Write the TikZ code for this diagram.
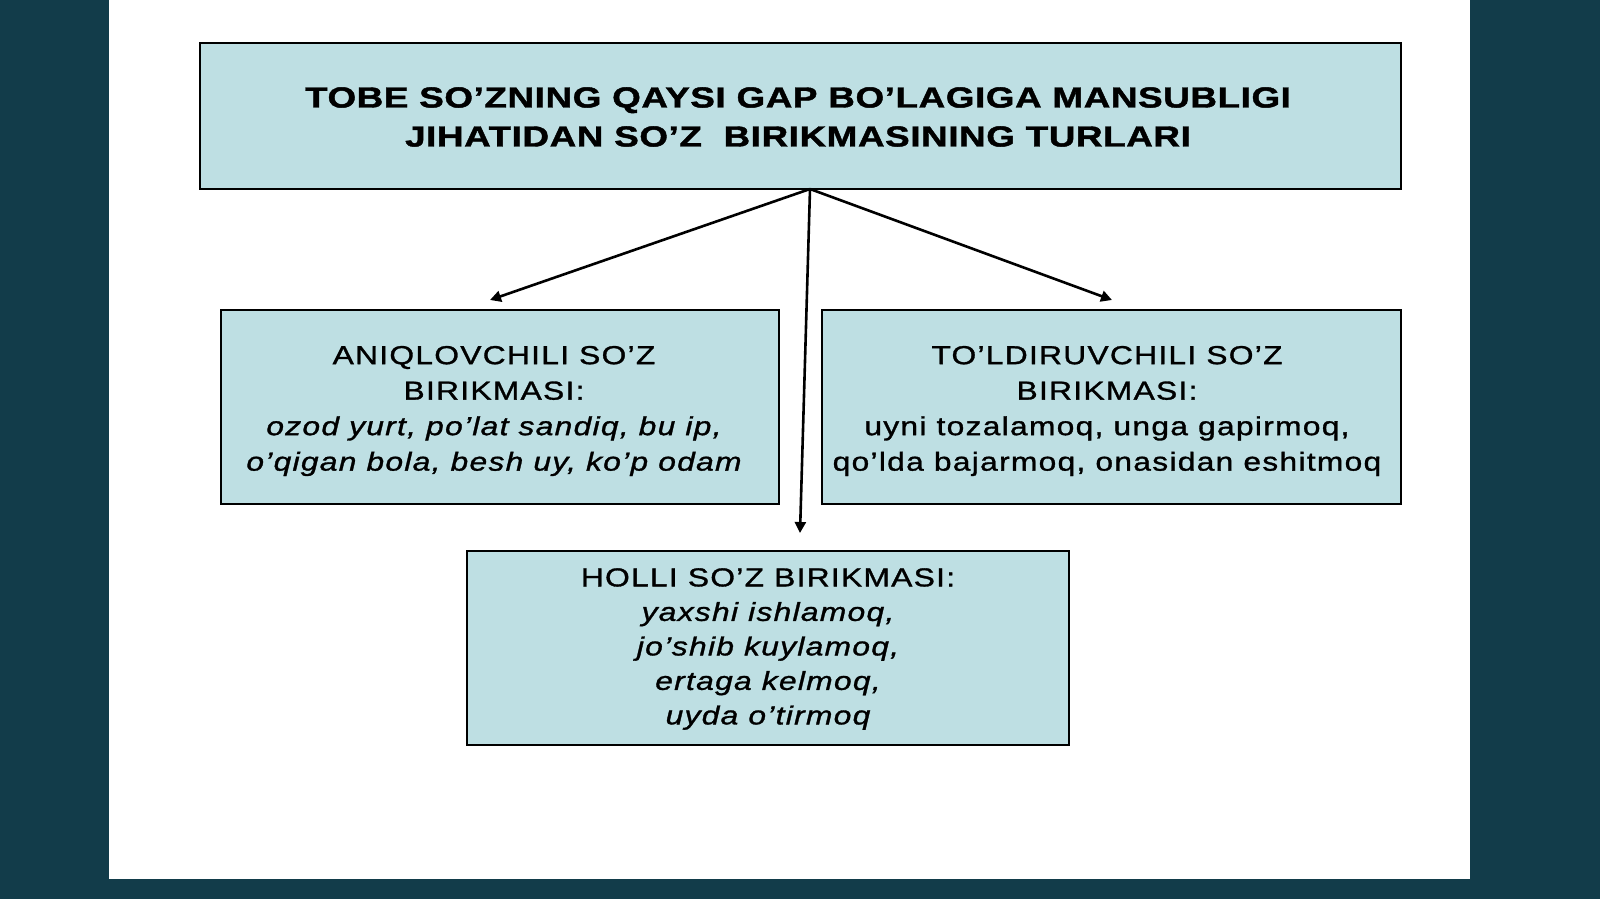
\documentclass[tikz,border=0pt]{standalone}
\usepackage{fontspec}
\setmainfont{Liberation Sans}[FakeStretch=1.22,LetterSpace=5,FakeBold=1.2]
\newfontfamily\titlefont{Liberation Sans}[FakeStretch=1.27,LetterSpace=2,FakeBold=1.5]
\usetikzlibrary{arrows.meta}
\definecolor{bgteal}{RGB}{18,60,74}
\definecolor{boxfill}{RGB}{190,223,227}
\tikzset{
  box/.style={draw=black, line width=1.3pt, fill=boxfill, inner sep=0pt},
  boxtext/.style={inner sep=0pt, align=center, text=black},
  conn/.style={line width=2.6pt, -{Triangle[length=11pt,width=11pt]}, shorten >=0pt}
}
\begin{document}
\begin{tikzpicture}[x=1pt,y=-1pt]
\useasboundingbox (0,0) rectangle (1600,899);
\fill[bgteal] (0,0) rectangle (1600,899);
\fill[white] (109,0) rectangle (1470,879);

\node[box, minimum width=1201pt, minimum height=146pt] (top) at (800.5,116) {};
\node[boxtext, font=\titlefont\fontsize{29}{39}\selectfont\bfseries] (toptext) at (798,117)
  {TOBE SO’ZNING QAYSI GAP BO’LAGIGA MANSUBLIGI\\JIHATIDAN SO’Z\ \ BIRIKMASINING TURLARI};

\node[box, minimum width=558pt, minimum height=194pt] (left) at (500,407) {};
\node[boxtext, font=\fontsize{26}{35.5}\selectfont] (lefttext) at (494,411)
  {ANIQLOVCHILI SO’Z\\BIRIKMASI:\\\itshape ozod yurt, po’lat sandiq, bu ip,\\\itshape o’qigan bola, besh uy, ko’p odam};

\node[box, minimum width=579pt, minimum height=194pt] (right) at (1111.5,407) {};
\node[boxtext, font=\fontsize{26}{35.5}\selectfont] (righttext) at (1107,411)
  {TO’LDIRUVCHILI SO’Z\\BIRIKMASI:\\uyni tozalamoq, unga gapirmoq,\\qo’lda bajarmoq, onasidan eshitmoq};

\node[box, minimum width=602pt, minimum height=194pt] (bottom) at (768,648) {};
\node[boxtext, font=\fontsize{26}{34.5}\selectfont] (bottomtext) at (768,649)
  {HOLLI SO’Z BIRIKMASI:\\\itshape yaxshi ishlamoq,\\\itshape jo’shib kuylamoq,\\\itshape ertaga kelmoq,\\\itshape uyda o’tirmoq};

\coordinate (apex) at (810,189);
\coordinate (lend) at (490,300);
\coordinate (rend) at (1112,300);
\coordinate (bend) at (800,533);
\draw[conn] (apex) -- (lend);
\draw[conn] (apex) -- (rend);
\draw[conn] (apex) -- (bend);
\end{tikzpicture}
\end{document}
